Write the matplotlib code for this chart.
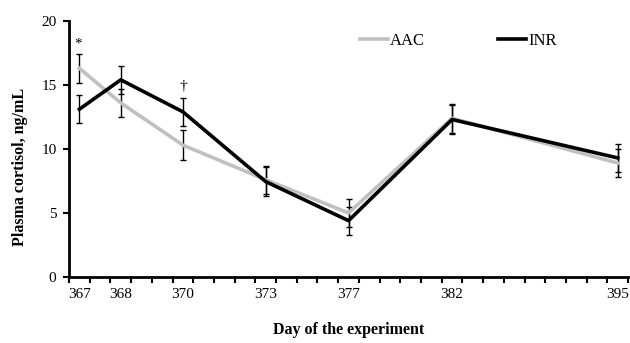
import numpy as np
import matplotlib.pyplot as plt
from matplotlib.ticker import MultipleLocator

plt.rcParams['font.family'] = ['Liberation Serif', 'DejaVu Serif']

days = ['367', '368', '370', '373', '377', '382', '395']
aac = [16.3, 13.6, 10.3, 7.6, 5.0, 12.4, 8.9]
aac_se = [1.15, 1.1, 1.15, 1.1, 1.1, 1.15, 1.1]
inr = [13.1, 15.4, 12.9, 7.45, 4.4, 12.3, 9.3]
inr_se = [1.1, 1.1, 1.1, 1.15, 1.1, 1.15, 1.1]

# category slots on the x axis (Excel-style day grid)
slot = np.array([0, 2, 5, 9, 13, 18, 26]) + 0.5

fig = plt.figure(figsize=(6.3, 3.43), dpi=100)
ax = fig.add_axes([0.1095, 0.1924, 0.8875, 0.7466])

ax.errorbar(slot, aac, yerr=aac_se, fmt='none', ecolor='black',
            elinewidth=1, capsize=2.5, capthick=1, zorder=2)
ax.errorbar(slot, inr, yerr=inr_se, fmt='none', ecolor='black',
            elinewidth=1, capsize=2.5, capthick=1, zorder=2)
ax.plot(slot, aac, color='#c0c0c0', lw=2.6, label='AAC', zorder=3)
ax.plot(slot, inr, color='black', lw=2.6, label='INR', zorder=4)

ax.text(slot[0] - 0.05, aac[0] + aac_se[0] + 0.75, '*', ha='center', va='center', fontsize=11)
ax.text(slot[2], inr[2] + inr_se[2] + 0.9, '†', ha='center', va='center', fontsize=11)

ax.set_xlim(0, 27)
ax.set_ylim(0, 20)
ax.set_xticks(slot)
ax.set_xticklabels(days)
ax.xaxis.set_minor_locator(MultipleLocator(1))
ax.tick_params(axis='x', which='major', length=0, pad=8, labelsize=11)
ax.tick_params(axis='x', which='minor', length=4, width=1.5, direction='out')
ax.set_yticks([0, 5, 10, 15, 20])
ax.tick_params(axis='y', length=4, width=1.5, direction='out', pad=5, labelsize=11)

for s in ['top', 'right']:
    ax.spines[s].set_visible(False)
for s in ['left', 'bottom']:
    ax.spines[s].set_linewidth(2)

ax.set_ylabel('Plasma cortisol, ng/mL', fontweight='bold', fontsize=11.5)
ax.yaxis.set_label_coords(-0.073, 0.428)
ax.set_xlabel('Day of the experiment', fontweight='bold', fontsize=11.5, labelpad=15)

ax.legend(loc='center left', bbox_to_anchor=(0.52, 0.922), ncol=2, frameon=False,
          fontsize=12, handlelength=1.7, handletextpad=0.1, columnspacing=4.4,
          borderpad=0, borderaxespad=0)

fig.savefig('out.png', dpi=100)
